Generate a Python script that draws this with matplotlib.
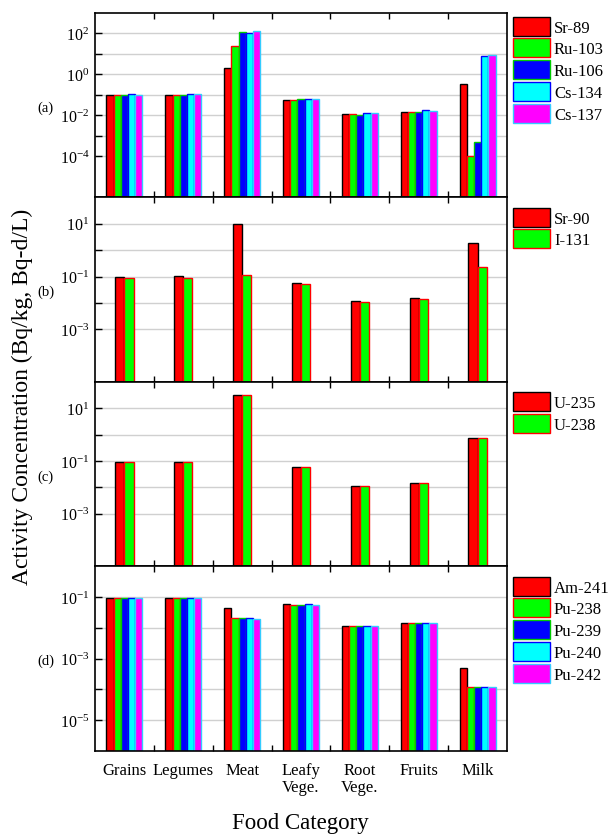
import numpy as np
import matplotlib
matplotlib.use("Agg")
from matplotlib import pyplot as plt
from matplotlib.ticker import FixedLocator, FixedFormatter, NullFormatter

plt.rcParams['font.family'] = ['Liberation Serif', 'DejaVu Serif']
plt.rcParams['mathtext.fontset'] = 'custom'
plt.rcParams['mathtext.rm'] = 'Liberation Serif'
plt.rcParams['mathtext.default'] = 'regular'

categories = ["Grains", "Legumes", "Meat", "Leafy\nVege.", "Root\nVege.", "Fruits", "Milk"]

# panel (a): fission products
labels_a = ["Sr-89", "Ru-103", "Ru-106", "Cs-134", "Cs-137"]
sr89 = [0.098, 0.100, 2.1, 0.059, 0.0112, 0.0150, 0.34]
ru103 = [0.095, 0.098, 24, 0.059, 0.0112, 0.0146, 1.0e-4]
ru106 = [0.098, 0.098, 116, 0.064, 0.0108, 0.0150, 5.2e-4]
cs134 = [0.110, 0.110, 110, 0.064, 0.0130, 0.0175, 7.8]
cs137 = [0.100, 0.110, 135, 0.062, 0.0125, 0.0163, 8.8]

# panel (b)
labels_b = ["Sr-90", "I-131"]
sr90 = [0.092, 0.103, 10.0, 0.059, 0.0122, 0.0155, 1.95]
i131 = [0.087, 0.089, 0.116, 0.050, 0.0110, 0.0145, 0.24]

# panel (c): uranium
labels_c = ["U-235", "U-238"]
u235 = [0.092, 0.094, 31, 0.059, 0.0115, 0.0149, 0.74]
u238 = [0.092, 0.094, 31, 0.057, 0.0115, 0.0149, 0.74]

# panel (d): transuranics
labels_d = ["Am-241", "Pu-238", "Pu-239", "Pu-240", "Pu-242"]
am241 = [0.093, 0.095, 0.045, 0.058, 0.0114, 0.0148, 5.0e-4]
pu238 = [0.093, 0.095, 0.021, 0.057, 0.0114, 0.0150, 1.2e-4]
pu239 = [0.092, 0.095, 0.021, 0.057, 0.0114, 0.0145, 1.2e-4]
pu240 = [0.093, 0.095, 0.021, 0.058, 0.0114, 0.0150, 1.2e-4]
pu242 = [0.092, 0.095, 0.020, 0.057, 0.0114, 0.0140, 1.2e-4]

fill_colors = ["#ff0000", "#00ff00", "#0000ff", "#00ffff", "#ff00ff"]
edge_colors = ["#000000", "#ff0000", "#00cc00", "#0000ff", "#33ccff"]

panels = [
    ("(a)", labels_a, [sr89, ru103, ru106, cs134, cs137], (1e-6, 1e3), range(-4, 3), 0.122),
    ("(b)", labels_b, [sr90, i131], (1e-5, 1e2), range(-3, 2), 0.155),
    ("(c)", labels_c, [u235, u238], (1e-5, 1e2), range(-3, 2), 0.155),
    ("(d)", labels_d, [am241, pu238, pu239, pu240, pu242], (1e-6, 1e0), range(-5, 0), 0.122),
]

fig, axes = plt.subplots(4, 1, figsize=(6.09, 8.37), dpi=100, sharex=True)
fig.subplots_adjust(left=0.156, right=0.8325, top=0.9833, bottom=0.1016, hspace=0)

x = np.arange(len(categories))
for ax, (tag, names, series, ylim, decades, w) in zip(axes, panels):
    n = len(series)
    handles = []
    for i, vals in enumerate(series):
        off = (i - (n - 1) / 2) * w
        b = ax.bar(x + off, vals, width=w, bottom=ylim[0], color=fill_colors[i],
                   edgecolor=edge_colors[i], linewidth=1.0, label=names[i])
        handles.append(b)
    ax.set_yscale('log')
    ax.set_ylim(*ylim)
    ax.set_xlim(-0.5, len(categories) - 0.5)
    ax.set_axisbelow(True)

    exps = list(decades)
    top_exp = exps[-1]
    ax.yaxis.set_major_locator(FixedLocator([10.0 ** e for e in exps]))
    ax.yaxis.set_major_formatter(FixedFormatter(
        ["10$^{%d}$" % e if (top_exp - e) % 2 == 0 else "" for e in exps]))
    ax.yaxis.set_minor_locator(FixedLocator([]))
    ax.yaxis.set_minor_formatter(NullFormatter())
    ax.grid(axis='y', color='#d0d0d0', linewidth=1.0)
    ax.tick_params(axis='y', direction='in', length=5, width=1, labelsize=11.5, pad=4)

    ax.xaxis.set_major_locator(FixedLocator(x))
    ax.xaxis.set_minor_locator(FixedLocator(x[:-1] + 0.5))
    ax.tick_params(axis='x', which='major', length=0, labelsize=12, pad=8)
    ax.tick_params(axis='x', which='minor', direction='in', length=4, width=1,
                   top=True, bottom=True)
    for s in ax.spines.values():
        s.set_linewidth(1.2)

    ax.text(-0.12, 0.49, tag, transform=ax.transAxes, fontsize=10.5,
            ha='center', va='center')

    top_pad = 0.02 if tag == "(a)" else 0.055
    ax.legend(handles=handles, loc='upper left', bbox_to_anchor=(1.015, 1 - top_pad),
              frameon=False, fontsize=12, borderpad=0, borderaxespad=0,
              handlelength=2.2, handleheight=1.38, labelspacing=0.16,
              handletextpad=0.25)

axes[-1].set_xticklabels(categories, linespacing=1.1)

fig.text(0.036, 0.526, "Activity Concentration (Bq/kg, Bq-d/L)", rotation=90,
         fontsize=17, ha='center', va='center')
fig.text(0.494, 0.009, "Food Category", fontsize=16.5, ha='center', va='baseline')

fig.savefig("out.png", dpi=100)
